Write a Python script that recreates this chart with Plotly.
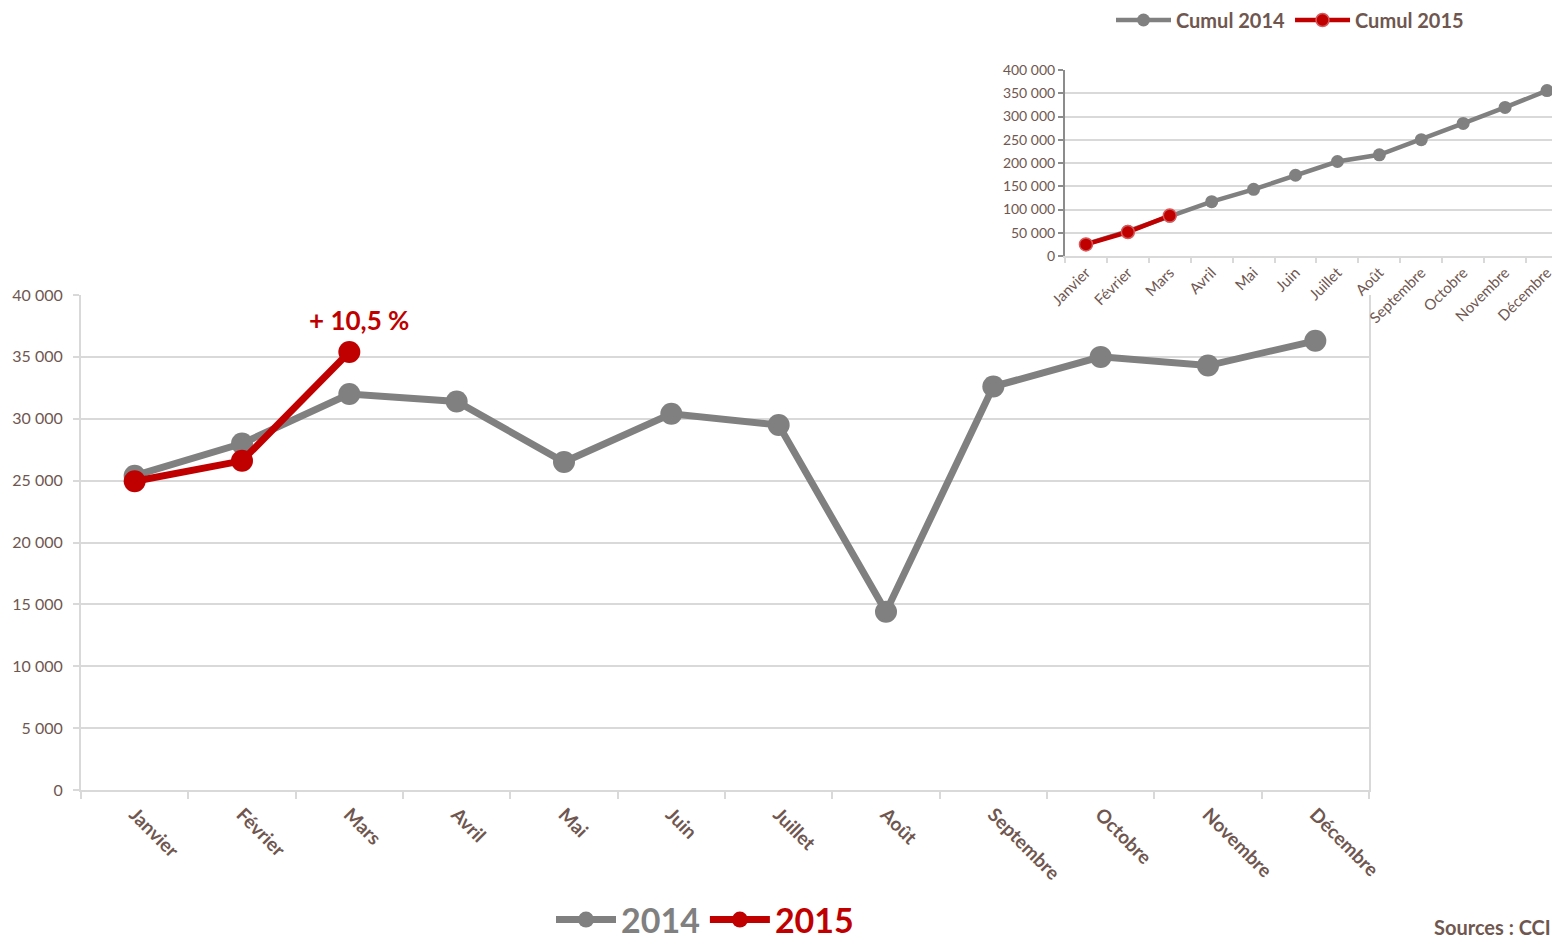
import plotly.graph_objects as go

months = ["Janvier", "Février", "Mars", "Avril", "Mai", "Juin", "Juillet",
          "Août", "Septembre", "Octobre", "Novembre", "Décembre"]
v2014 = [25400, 28000, 32000, 31400, 26500, 30400, 29500, 14400, 32600, 35000, 34300, 36300]
v2015 = [24950, 26600, 35400]
cumul2014 = [25400, 53400, 85400, 116800, 143300, 173700, 203200, 217600, 250200, 285200, 319500, 355800]
cumul2015 = [24950, 51550, 86950]
main_yticks = [0, 5000, 10000, 15000, 20000, 25000, 30000, 35000, 40000]
inset_yticks = [0, 50000, 100000, 150000, 200000, 250000, 300000, 350000, 400000]

GREY = "#808080"
RED = "#C00000"
BROWN = "#6F5750"
GRID = "#D9D9D9"
FONT = "Lato, 'Open Sans', sans-serif"

# the page body has an 8px margin, so the figure is drawn 8px in from the window corner
OFF = 8
PAGE_W, PAGE_H = 1560, 939
W, H = PAGE_W - OFF, PAGE_H - OFF


def px(x):
    return (x - OFF) / W


def py(y):
    return (PAGE_H - y) / H


fig = go.Figure()

# Main chart
fig.add_trace(go.Scatter(
    x=months, y=v2014, mode="lines+markers", name="<b><span style='color:#808080'>2014</span></b>",
    line=dict(color=GREY, width=7), marker=dict(size=22, color=GREY),
    xaxis="x", yaxis="y", legend="legend", hoverinfo="skip"))
fig.add_trace(go.Scatter(
    x=months[:len(v2015)], y=v2015, mode="lines+markers", name="<b><span style='color:#C00000'>2015</span></b>",
    line=dict(color=RED, width=7), marker=dict(size=22, color=RED),
    xaxis="x", yaxis="y", legend="legend", hoverinfo="skip"))

# Inset chart
fig.add_trace(go.Scatter(
    x=months, y=cumul2014, mode="lines+markers", name="<b>Cumul 2014</b>",
    line=dict(color=GREY, width=4.5), marker=dict(size=13, color=GREY),
    xaxis="x2", yaxis="y2", legend="legend2", hoverinfo="skip"))
fig.add_trace(go.Scatter(
    x=months[:len(cumul2015)], y=cumul2015, mode="lines+markers", name="<b>Cumul 2015</b>",
    line=dict(color=RED, width=4.5), marker=dict(size=13, color=RED, line=dict(color="#D8585A", width=1.5)),
    xaxis="x2", yaxis="y2", legend="legend2", hoverinfo="skip"))

fig.add_annotation(
    x="Mars", y=v2015[2], xref="x", yref="y", text="<b>+ 10,5 %</b>", showarrow=False,
    xshift=10, yshift=32, font=dict(family=FONT, size=26, color=RED))

fig.add_annotation(
    x=px(1432), y=py(927), xref="paper", yref="paper", xanchor="left", yanchor="middle",
    text="<b>Sources : CCI</b>", showarrow=False, font=dict(family=FONT, size=20, color=BROWN))

fig.update_layout(
    width=W, height=H,
    margin=dict(l=0, r=0, t=0, b=0, autoexpand=False),
    paper_bgcolor="white", plot_bgcolor="white",
    separators=", ",
    font=dict(family=FONT, color=BROWN),
    showlegend=True,
    xaxis=dict(
        domain=[px(81), px(1369)], anchor="y", type="category", automargin=False,
        categoryorder="array", categoryarray=months, range=[-0.5, 11.5],
        tickangle=45, tickfont=dict(family=FONT, size=19, color=BROWN, weight="bold"),
        showgrid=False, showline=True, linecolor=GRID, linewidth=2,
        ticks="outside", tickson="boundaries", ticklen=7, tickcolor=GRID, tickwidth=2,
        ticklabelstandoff=4, zeroline=False, fixedrange=True),
    yaxis=dict(
        domain=[py(790), py(295)], anchor="x", range=[0, 40000], automargin=False,
        tickvals=main_yticks, tickformat=",d",
        tickfont=dict(family=FONT, size=16, color=BROWN),
        showgrid=True, gridcolor=GRID, gridwidth=2,
        showline=True, linecolor=GRID, linewidth=2, mirror=True,
        ticks="outside", ticklen=6, tickcolor=GRID, tickwidth=2,
        ticklabelstandoff=7, zeroline=False, fixedrange=True),
    xaxis2=dict(
        domain=[px(1065), 1.0], anchor="y2", type="category", automargin=False,
        categoryorder="array", categoryarray=months, range=[-0.5, 11.31],
        tickangle=-45, tickfont=dict(family=FONT, size=15, color=BROWN),
        showgrid=False, showline=True, linecolor=GRID, linewidth=2,
        ticks="outside", tickson="boundaries", ticklen=5, tickcolor=GRID, tickwidth=2,
        zeroline=False, fixedrange=True),
    yaxis2=dict(
        domain=[py(256), py(70)], anchor="x2", range=[0, 400000], automargin=False,
        tickvals=inset_yticks, tickformat=",d",
        tickfont=dict(family=FONT, size=14, color=BROWN),
        showgrid=True, gridcolor=GRID, gridwidth=2,
        showline=True, linecolor="#8C8C8C", linewidth=2,
        ticks="outside", ticklen=5, tickcolor="#8C8C8C", tickwidth=2,
        zeroline=False, fixedrange=True),
    legend=dict(
        orientation="h", x=px(705), y=py(920), xanchor="center", yanchor="middle",
        font=dict(family=FONT, size=34), itemwidth=60, bgcolor="rgba(0,0,0,0)",
        tracegroupgap=0, itemclick=False, itemdoubleclick=False),
    legend2=dict(
        orientation="h", x=px(1290), y=py(20), xanchor="center", yanchor="middle",
        font=dict(family=FONT, size=20, color=BROWN), itemwidth=55, bgcolor="rgba(0,0,0,0)",
        itemclick=False, itemdoubleclick=False),
)

fig.write_html("out.html")
